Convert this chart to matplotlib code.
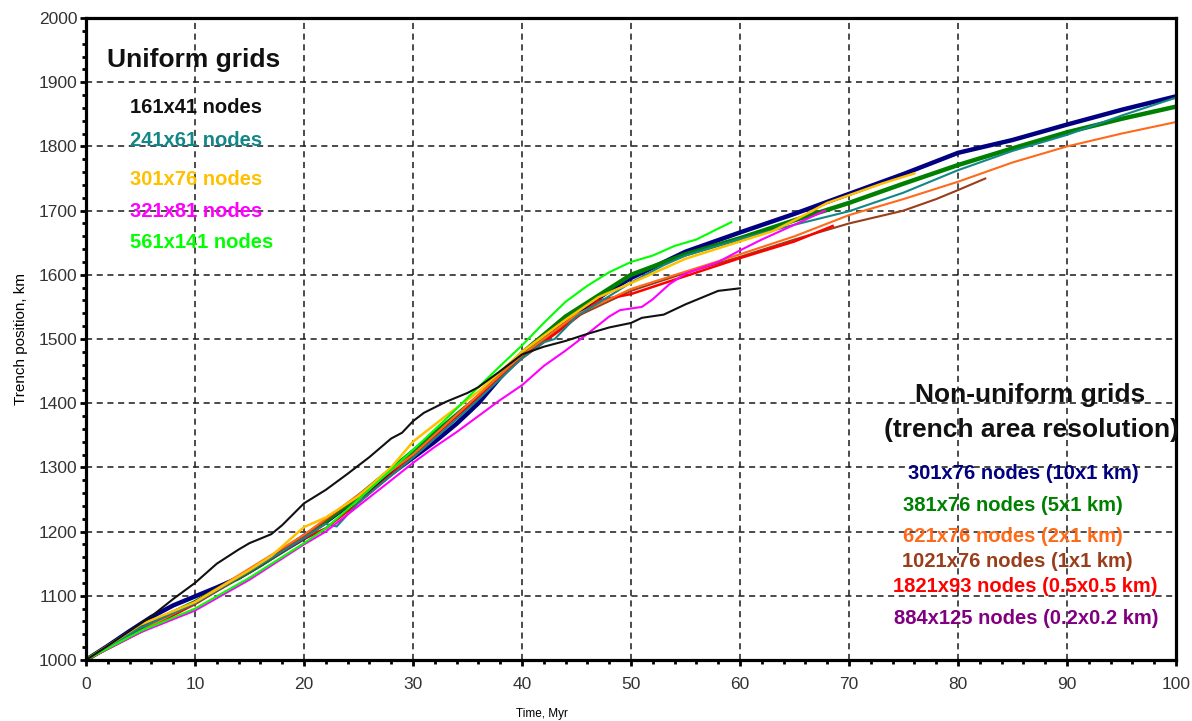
import matplotlib
matplotlib.use('Agg')
import matplotlib.pyplot as plt
from matplotlib.ticker import MultipleLocator

plt.rcParams['font.family'] = ['Liberation Sans', 'DejaVu Sans']

# uniform grids
t_161 = [0, 2, 4, 6, 8, 10, 12, 14, 15, 17, 18, 20, 22, 24, 26, 28, 29, 30, 31, 33,
         35, 36, 38, 40, 42, 44, 46, 48, 50, 51, 53, 55, 57, 58, 60]
v_161 = [1000, 1022, 1045, 1068, 1095, 1120, 1150, 1172, 1182, 1196, 1210, 1244, 1265,
         1290, 1316, 1345, 1354, 1372, 1385, 1402, 1416, 1425, 1450, 1476, 1488, 1497,
         1508, 1518, 1525, 1533, 1538, 1554, 1568, 1575, 1579]

t_241 = [0, 5, 10, 15, 20, 22, 23, 25, 30, 35, 40, 42, 43, 45, 50, 53, 55, 60, 65, 70,
         75, 80, 85, 90, 95, 100]
v_241 = [1000, 1050, 1088, 1138, 1190, 1212, 1208, 1245, 1315, 1390, 1470, 1495, 1500,
         1535, 1588, 1615, 1630, 1656, 1678, 1699, 1728, 1763, 1793, 1818, 1848, 1876]

t_301u = [0, 5, 10, 15, 17, 20, 22, 25, 28, 30, 33, 36, 40, 42, 44, 47, 50, 55, 60, 63,
          65, 68, 70, 73, 76]
v_301u = [1000, 1055, 1090, 1140, 1162, 1207, 1222, 1255, 1300, 1340, 1380, 1418, 1480,
          1505, 1530, 1565, 1587, 1625, 1652, 1668, 1685, 1712, 1724, 1742, 1758]

t_321 = [0, 5, 10, 15, 20, 22, 25, 28, 30, 32, 34, 36, 38, 40, 42, 44, 46, 48, 49, 51,
         52, 53.5, 55, 58, 60, 62, 65, 67.8]
v_321 = [1000, 1043, 1077, 1125, 1180, 1200, 1240, 1280, 1307, 1332, 1355, 1380, 1405,
         1428, 1458, 1482, 1508, 1535, 1545, 1550, 1562, 1585, 1602, 1620, 1638, 1655,
         1678, 1700]

t_561 = [0, 5, 10, 15, 20, 22, 25, 30, 33, 36, 38, 40, 42, 44, 46, 48, 50, 52, 54, 56,
         58, 59.2]
v_561 = [1000, 1045, 1080, 1128, 1182, 1205, 1250, 1327, 1375, 1425, 1458, 1490, 1525,
         1558, 1583, 1604, 1620, 1630, 1645, 1655, 1672, 1682]

# non-uniform grids
t_10x1 = [0, 2, 4, 6, 8, 10, 12, 14, 16, 18, 20, 22, 24, 26, 28, 30, 32, 34, 36, 38, 40,
          42, 44, 46, 48, 50, 55, 60, 65, 70, 75, 80, 85, 90, 95, 100]
v_10x1 = [1000, 1022, 1045, 1067, 1085, 1099, 1113, 1128, 1148, 1170, 1193, 1215, 1240,
          1265, 1290, 1315, 1340, 1368, 1400, 1440, 1475, 1505, 1530, 1552, 1575, 1595,
          1636, 1666, 1695, 1726, 1757, 1790, 1810, 1834, 1857, 1878]

t_5x1 = [0, 5, 10, 15, 20, 25, 30, 36, 40, 44, 50, 55, 60, 65, 70, 75, 80, 85, 90, 95, 100]
v_5x1 = [1000, 1050, 1090, 1138, 1190, 1255, 1325, 1410, 1478, 1535, 1600, 1632, 1657,
         1685, 1712, 1742, 1771, 1797, 1822, 1843, 1862]

t_2x1 = [0, 10, 20, 30, 40, 45, 50, 55, 60, 65, 70, 75, 80, 85, 90, 95, 100]
v_2x1 = [1000, 1090, 1195, 1320, 1475, 1538, 1578, 1605, 1632, 1660, 1693, 1718, 1745,
         1775, 1800, 1820, 1838]

t_1x1 = [0, 10, 20, 30, 40, 45, 50, 55, 60, 65, 70, 75, 78, 80, 82.5]
v_1x1 = [1000, 1088, 1192, 1320, 1472, 1535, 1575, 1603, 1628, 1655, 1680, 1700, 1718,
         1732, 1750]

t_05 = [0, 10, 20, 22, 25, 30, 35, 40, 44, 47, 50, 55, 60, 65, 68.5]
v_05 = [1000, 1087, 1190, 1205, 1245, 1318, 1395, 1470, 1520, 1560, 1570, 1598, 1626,
        1652, 1676]

t_02 = [0, 5, 10, 15, 20, 22]
v_02 = [1000, 1050, 1090, 1138, 1188, 1205]

fig = plt.figure(figsize=(11.92, 7.21), dpi=100)
ax = fig.add_axes([0.0721, 0.0846, 0.9145, 0.8904])

# thick lines first, thin ones on top
ax.plot(t_10x1, v_10x1, color='#000080', lw=3.2)
ax.plot(t_5x1, v_5x1, color='#008000', lw=3.2)
ax.plot(t_02, v_02, color='#800080', lw=1.5)
ax.plot(t_1x1, v_1x1, color='#993d1a', lw=1.5)
ax.plot(t_05, v_05, color='#ff0000', lw=1.8)
ax.plot(t_2x1, v_2x1, color='#ff6a1a', lw=1.5)
ax.plot(t_241, v_241, color='#138787', lw=1.5)
ax.plot(t_301u, v_301u, color='#ffc000', lw=1.8)
ax.plot(t_321, v_321, color='#ff00ff', lw=1.5)
ax.plot(t_561, v_561, color='#00ff00', lw=1.5)
ax.plot(t_161, v_161, color='#111111', lw=1.5)

ax.set_xlim(0, 100)
ax.set_ylim(1000, 2000)
ax.xaxis.set_major_locator(MultipleLocator(10))
ax.xaxis.set_minor_locator(MultipleLocator(2))
ax.yaxis.set_major_locator(MultipleLocator(100))
ax.yaxis.set_minor_locator(MultipleLocator(20))
ax.grid(True, which='major', color='#1a1a1a', lw=1.1, ls=(0, (4, 3)))
ax.set_axisbelow(True)
for s in ax.spines.values():
    s.set_linewidth(2.3)
ax.tick_params(which='major', direction='out', length=4, width=2, pad=2,
               labelsize=12.5, labelcolor='#333333')
ax.tick_params(axis='x', which='major', pad=8)
ax.tick_params(which='minor', direction='out', length=3, width=2)

ax.set_xlabel('Time, Myr', fontsize=8.5)
ax.xaxis.set_label_coords(0.418, -0.075)
ax.set_ylabel('Trench position, km', fontsize=11, labelpad=8)

# uniform grids labels
ax.text(1.9, 1935, 'Uniform grids', fontsize=19, fontweight='bold', va='center',
        color='#111111')
uni_labels = ['161x41 nodes', '241x61 nodes', '301x76 nodes', '321x81 nodes',
              '561x141 nodes']
uni_colors = ['#111111', '#138787', '#ffc000', '#ff00ff', '#00ff00']
uni_y = [1860, 1810, 1748, 1698, 1651]
for lab, c, y in zip(uni_labels, uni_colors, uni_y):
    ax.text(4.0, y, lab, fontsize=14.5, fontweight='bold', color=c, va='center')

# non-uniform grids labels
ax.text(86.6, 1413, 'Non-uniform grids', fontsize=19, fontweight='bold',
        ha='center', va='center', color='#111111')
ax.text(86.7, 1358, '(trench area resolution)', fontsize=19, fontweight='bold',
        ha='center', va='center', color='#111111')
nu_labels = ['301x76 nodes (10x1 km)', '381x76 nodes (5x1 km)',
             '621x76 nodes (2x1 km)', '1021x76 nodes (1x1 km)',
             '1821x93 nodes (0.5x0.5 km)', '884x125 nodes (0.2x0.2 km)']
nu_colors = ['#000080', '#008000', '#ff6a1a', '#993d1a', '#ff0000', '#800080']
nu_x = [86.0, 85.0, 85.0, 85.4, 86.2, 86.3]
nu_y = [1290, 1241, 1193, 1153, 1114, 1064]
for lab, c, x, y in zip(nu_labels, nu_colors, nu_x, nu_y):
    ax.text(x, y, lab, fontsize=14.5, fontweight='bold', color=c,
            ha='center', va='center')

plt.savefig('out.png', dpi=100, facecolor='w')
print("Done")
